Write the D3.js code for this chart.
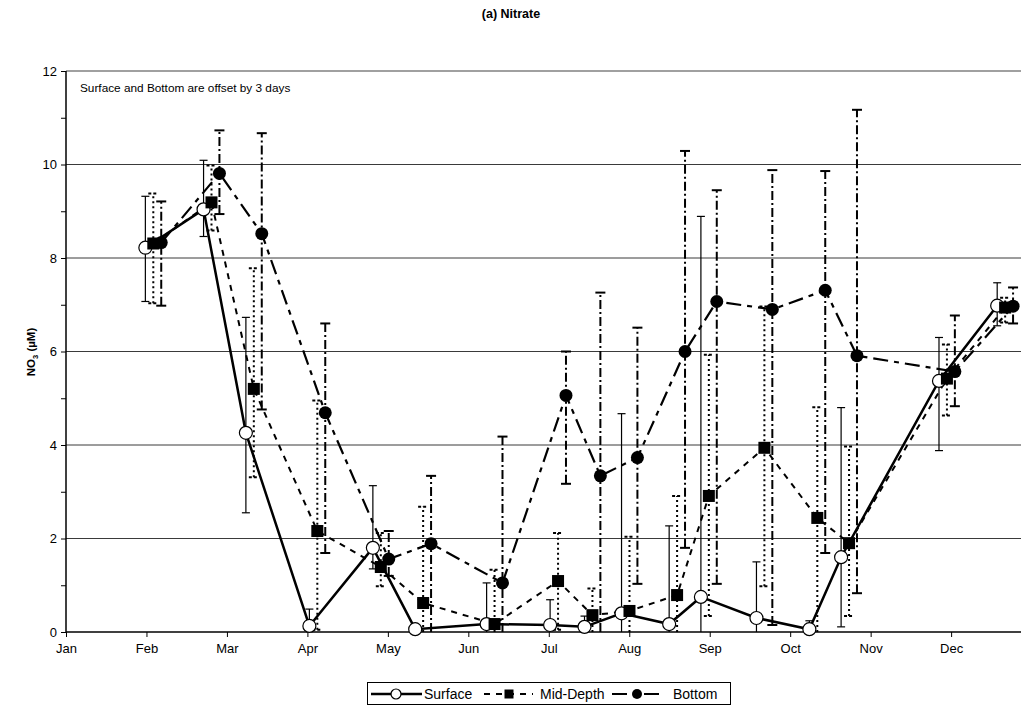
<!DOCTYPE html>
<html>
<head>
<meta charset="utf-8">
<script src="https://cdn.jsdelivr.net/npm/d3@7"></script>
<style>
  html, body { margin: 0; padding: 0; background: #fff; }
  svg { display: block; font-family: "Liberation Sans", Arial, sans-serif; }
</style>
</head>
<body>
<svg id="chart" width="1021" height="706"></svg>
<script>
// Sampling days (day of year) for the mid-depth samples; surface and bottom
// are plotted 3 days earlier / later so their error bars do not overlap.
const sampleDays = [33, 55, 71, 95, 119, 135, 162, 186, 199, 213, 231, 243, 264, 284, 296, 333, 355];
const dayOffset = 3;

const monthLabels = ["Jan", "Feb", "Mar", "Apr", "May", "Jun", "Jul", "Aug", "Sep", "Oct", "Nov", "Dec"];
const yTicks = [0, 2, 4, 6, 8, 10, 12];

// Nitrate (µM) with lower / upper error-bar limits
const surface     = [8.22, 9.04, 4.26, 0.13, 1.80, 0.06, 0.17, 0.15, 0.11, 0.40, 0.17, 0.75, 0.30, 0.06, 1.60, 5.37, 6.98];
const surfaceLow  = [7.07, 8.46, 2.55, 0.00, 1.35, 0.06, 0.00, 0.00, 0.00, 0.00, 0.00, 0.00, 0.00, 0.00, 0.11, 3.88, 6.55];
const surfaceHigh = [9.32, 10.09, 6.73, 0.49, 3.13, 0.06, 1.05, 0.69, 0.34, 4.67, 2.27, 8.89, 1.50, 0.24, 4.80, 6.30, 7.47];

const midDepth     = [8.31, 9.19, 5.20, 2.16, 1.39, 0.62, 0.17, 1.09, 0.36, 0.45, 0.79, 2.91, 3.94, 2.44, 1.90, 5.42, 6.94];
const midDepthLow  = [7.03, 8.59, 3.31, 0.05, 0.98, 0.00, 0.00, 0.05, 0.00, 0.00, 0.00, 0.34, 0.98, 0.00, 0.34, 4.63, 6.62];
const midDepthHigh = [9.38, 9.98, 7.78, 4.95, 2.12, 2.68, 1.33, 2.12, 0.93, 2.04, 2.91, 5.93, 6.96, 4.81, 3.97, 6.15, 7.15];

const bottom     = [8.33, 9.81, 8.52, 4.69, 1.56, 1.89, 1.05, 5.06, 3.34, 3.73, 6.00, 7.07, 6.90, 7.31, 5.91, 5.57, 6.97];
const bottomLow  = [6.98, 8.94, 4.76, 1.69, 1.20, 0.00, 0.00, 3.17, 0.00, 1.03, 1.80, 1.03, 0.15, 1.69, 0.83, 4.83, 6.60];
const bottomHigh = [9.21, 10.73, 10.67, 6.60, 2.16, 3.34, 4.18, 6.00, 7.26, 6.51, 10.29, 9.45, 9.88, 9.86, 11.17, 6.77, 7.37];

const svg = d3.select("#chart");
const plotLeft = 66, plotRight = 1021, plotTop = 71, plotBottom = 632;

const x = d3.scaleLinear().domain([0, 361]).range([plotLeft, plotRight]);
const y = d3.scaleLinear().domain([0, 12]).range([plotBottom, plotTop]);

// Title
svg.append("text")
  .attr("x", 511).attr("y", 18)
  .attr("text-anchor", "middle")
  .attr("font-size", 12.5).attr("font-weight", "bold")
  .text("(a) Nitrate");

// Horizontal gridlines
svg.append("g").selectAll("line")
  .data(yTicks.filter(d => d > 0))
  .join("line")
  .attr("x1", plotLeft).attr("x2", plotRight)
  .attr("y1", d => y(d)).attr("y2", d => y(d))
  .attr("stroke", d => d === 12 ? "#808080" : "#3a3a3a")
  .attr("stroke-width", d => d === 12 ? 1.5 : 1);

// Y axis with major (labelled) and minor ticks
const yAxis = svg.append("g").attr("transform", `translate(${plotLeft},0)`)
  .call(d3.axisLeft(y).tickValues(d3.range(0, 13, 1)).tickSize(5)
    .tickFormat(d => d % 2 === 0 ? d : ""));
yAxis.select(".domain").attr("stroke", "#000").attr("stroke-width", 1.5).attr("d", `M0,${plotBottom}V${plotTop}`);
yAxis.selectAll(".tick line").attr("stroke", "#000");
yAxis.selectAll(".tick text").attr("font-size", 13).attr("font-family", "Liberation Sans, Arial, sans-serif").attr("fill", "#000").attr("x", -9);

// X axis: twelve evenly spaced month ticks
const xAxis = svg.append("g").attr("transform", `translate(0,${plotBottom})`)
  .call(d3.axisBottom(x).tickValues(d3.range(12).map(i => i * 365 / 12)).tickSize(5)
    .tickFormat((d, i) => monthLabels[i]));
xAxis.select(".domain").attr("stroke", "#000").attr("stroke-width", 1.5).attr("d", `M${plotLeft},0H${plotRight}`);
xAxis.selectAll(".tick line").attr("stroke", "#000");
xAxis.selectAll(".tick text").attr("font-size", 13).attr("font-family", "Liberation Sans, Arial, sans-serif").attr("fill", "#000").attr("y", 12);

// Y axis title NO3 (µM)
const yTitle = svg.append("text")
  .attr("transform", `translate(35,352) rotate(-90)`)
  .attr("text-anchor", "middle")
  .attr("font-size", 11.5).attr("font-weight", "bold");
yTitle.append("tspan").text("NO");
yTitle.append("tspan").attr("font-size", 7.5).attr("dy", 3).text("3");
yTitle.append("tspan").attr("dy", -3).text(" (µM)");

// Note
svg.append("text")
  .attr("x", 80).attr("y", 92)
  .attr("font-size", 11.8)
  .text("Surface and Bottom are offset by 3 days");

const series = [
  { name: "Surface", vals: surface, lo: surfaceLow, hi: surfaceHigh, shift: -dayOffset,
    line: null, lineWidth: 2.5, err: null, marker: "openCircle" },
  { name: "Mid-Depth", vals: midDepth, lo: midDepthLow, hi: midDepthHigh, shift: 0,
    line: "6,6", lineWidth: 2, err: "2,3", marker: "square" },
  { name: "Bottom", vals: bottom, lo: bottomLow, hi: bottomHigh, shift: dayOffset,
    line: "15,6,5,6", lineWidth: 2.2, err: "9,3,2,3", marker: "dot" }
];

const errG = svg.append("g");
const lineG = svg.append("g");
const markG = svg.append("g");

series.forEach(s => {
  const pts = s.vals.map((v, i) => ({ d: sampleDays[i] + s.shift, v, lo: s.lo[i], hi: s.hi[i] }));
  const bars = pts.filter(p => p.hi > p.lo);
  const g = errG.append("g")
    .attr("stroke", "#000")
    .attr("stroke-width", s.err ? 2 : 1.2);
  g.selectAll("line.v").data(bars).join("line").attr("class", "v")
    .attr("x1", p => x(p.d)).attr("x2", p => x(p.d))
    .attr("y1", p => y(p.lo)).attr("y2", p => y(p.hi))
    .attr("stroke-dasharray", s.err);
  const capW = s.err ? 5 : 4;
  const caps = bars.flatMap(p => [{ d: p.d, v: p.hi }, { d: p.d, v: p.lo }]).filter(c => c.v > 0);
  g.selectAll("line.c").data(caps).join("line").attr("class", "c")
    .attr("x1", c => x(c.d) - capW).attr("x2", c => x(c.d) + capW)
    .attr("y1", c => y(c.v)).attr("y2", c => y(c.v))
    .attr("stroke-dasharray", s.err ? (s.name === "Mid-Depth" ? "3,2" : null) : null);

  lineG.append("path")
    .datum(pts)
    .attr("fill", "none")
    .attr("stroke", "#000")
    .attr("stroke-width", s.lineWidth)
    .attr("stroke-dasharray", s.line)
    .attr("d", d3.line().x(p => x(p.d)).y(p => y(p.v)));

  s.pts = pts;
});

function drawMarker(g, type, cx, cy, size) {
  if (type === "square") {
    g.append("rect").attr("x", cx - size).attr("y", cy - size).attr("width", 2 * size).attr("height", 2 * size).attr("fill", "#000");
  } else if (type === "dot") {
    g.append("circle").attr("cx", cx).attr("cy", cy).attr("r", size + 0.5).attr("fill", "#000");
  } else {
    g.append("circle").attr("cx", cx).attr("cy", cy).attr("r", size + 0.5).attr("fill", "#fff")
      .attr("stroke", "#000").attr("stroke-width", 1.2);
  }
}

series.forEach(s => {
  const g = markG.append("g");
  s.pts.forEach(p => drawMarker(g, s.marker, x(p.d), y(p.v), 6));
});

// Legend
const lg = svg.append("g");
lg.append("rect").attr("x", 367.5).attr("y", 682.5).attr("width", 363).attr("height", 22)
  .attr("fill", "#fff").attr("stroke", "#000").attr("stroke-width", 1);
const legendItems = [
  { s: series[0], x0: 371, x1: 422, mx: 396, tx: 424 },
  { s: series[1], x0: 484, x1: 533, mx: 509, tx: 540 },
  { s: series[2], x0: 612, x1: 664, mx: 637, tx: 673 }
];
legendItems.forEach(it => {
  const cy = 694;
  lg.append("line").attr("x1", it.x0).attr("x2", it.x1).attr("y1", cy).attr("y2", cy)
    .attr("stroke", "#000").attr("stroke-width", it.s.lineWidth)
    .attr("stroke-dasharray", it.s.line);
  drawMarker(lg.append("g"), it.s.marker, it.mx, cy, 4.5);
  lg.append("text").attr("x", it.tx).attr("y", cy + 5).attr("font-size", 14).text(it.s.name);
});
</script>
</body>
</html>
